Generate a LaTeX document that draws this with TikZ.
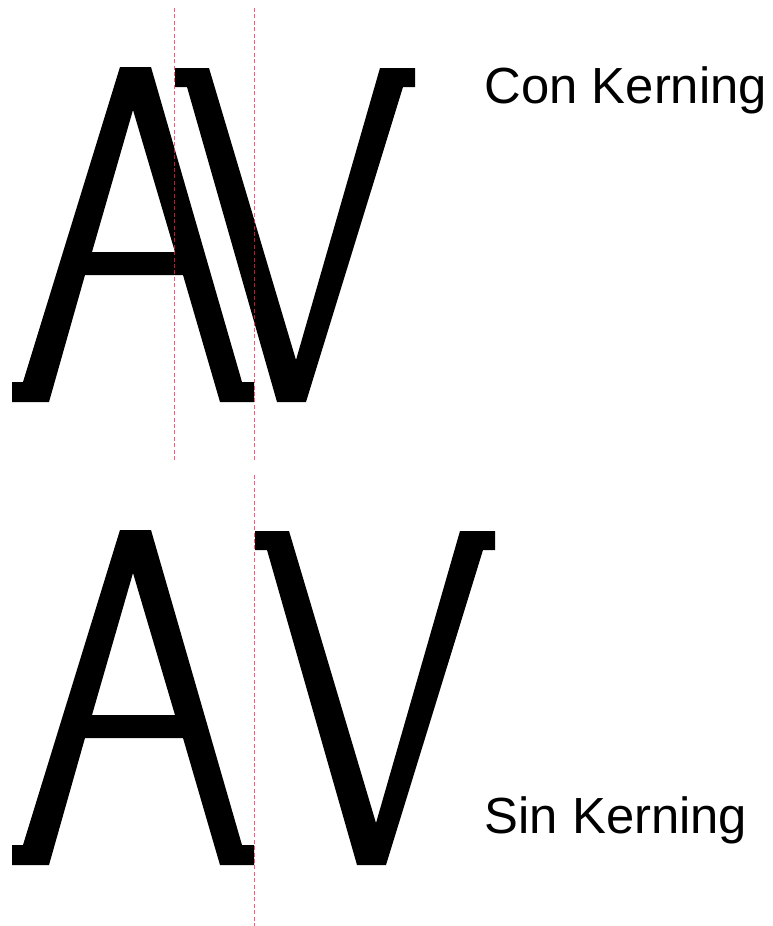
\documentclass[tikz,border=0pt]{standalone}
\usepackage{fontspec}
\setmainfont{Liberation Sans}
\begin{document}
\begin{tikzpicture}[x=1pt,y=-1pt,
  glyph/.style={fill=black,draw=none,even odd rule},
  guide/.style={draw={rgb,255:red,255;green,30;blue,80},draw opacity=0.75,line width=1.2pt,dash pattern=on 4pt off 2.4pt},
  label/.style={anchor=base west,inner sep=0pt,font=\fontsize{50.8}{60}\selectfont}]
\useasboundingbox (0,0) rectangle (773,926);
% Letter shapes
\def\glyphA{(12,402) -- (12,382) -- (23,382) -- (120,67) -- (151,67) -- (242,382) -- (254,382) -- (254,402) -- (220,402) -- (183,275) -- (85,275) -- (49,402) -- cycle
  (92,252) -- (133,110) -- (175,252) -- cycle}
\def\glyphV{(175,68) -- (209,68) -- (296,360) -- (380,68) -- (415,68) -- (415,87) -- (403,87) -- (306,402) -- (277,402) -- (187,87) -- (175,87) -- cycle}
% with kerning
\fill[glyph] \glyphA;
\fill[glyph] \glyphV;
% without kerning
\begin{scope}[shift={(0,463)}]
\fill[glyph] \glyphA;
\end{scope}
\begin{scope}[shift={(80,463)}]
\fill[glyph] \glyphV;
\end{scope}
% guide lines
\coordinate (g1t) at (174.5,8);
\coordinate (g1b) at (174.5,462);
\coordinate (g2t) at (254.5,8);
\coordinate (g2b) at (254.5,462);
\coordinate (g3t) at (254.5,475);
\coordinate (g3b) at (254.5,926);
\draw[guide] (g1t) -- (g1b);
\draw[guide] (g2t) -- (g2b);
\draw[guide] (g3t) -- (g3b);
% labels
\node[label] (con) at (484.5,103) {Con Kerning};
\node[label] (sin) at (484.5,833) {Sin Kerning};
\end{tikzpicture}
\end{document}
